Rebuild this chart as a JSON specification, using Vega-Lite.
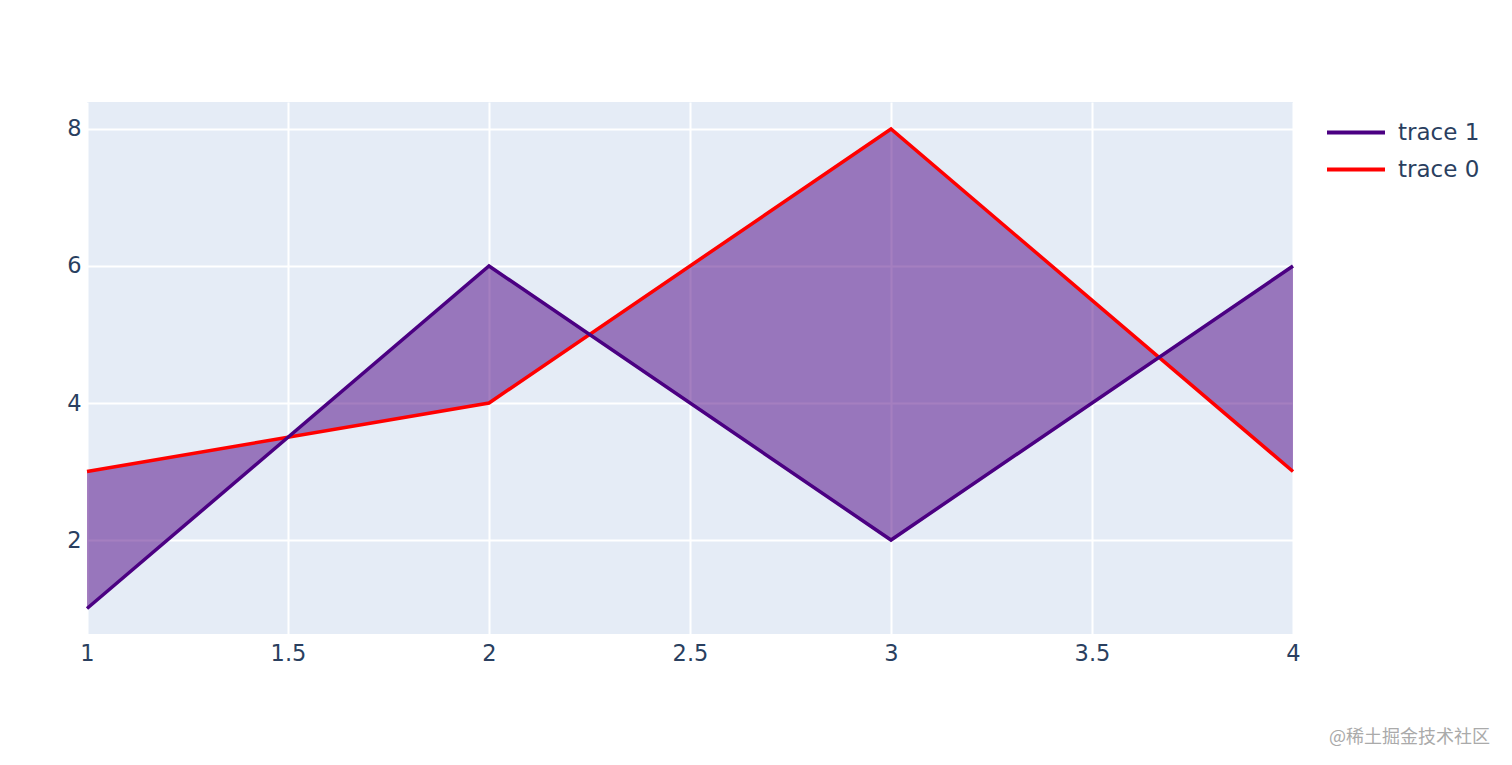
{
  "$schema": "https://vega.github.io/schema/vega-lite/v6.json",
  "width": 1206,
  "height": 532,
  "autosize": "none",
  "padding": {"left": 87, "top": 102, "right": 219, "bottom": 131},
  "background": "white",
  "config": {
    "view": {"fill": "#E5ECF6", "stroke": null},
    "font": "DejaVu Sans",
    "axis": {
      "gridColor": "white",
      "gridWidth": 2,
      "domain": false,
      "ticks": false,
      "labelColor": "#2a3f5f",
      "labelFontSize": 22.5,
      "labelFont": "DejaVu Sans",
      "title": null
    }
  },
  "title": {
    "text": "@稀土掘金技术社区",
    "orient": "bottom",
    "anchor": "end",
    "frame": "group",
    "font": "Noto Sans CJK SC",
    "fontSize": 18,
    "fontWeight": "normal",
    "color": "#aaaaaa",
    "dx": 197,
    "offset": 64
  },
  "data": {
    "values": [
      {"x": 1, "trace0": 3, "trace1": 1},
      {"x": 2, "trace0": 4, "trace1": 6},
      {"x": 3, "trace0": 8, "trace1": 2},
      {"x": 4, "trace0": 3, "trace1": 6}
    ]
  },
  "layer": [
    {
      "mark": {"type": "area", "color": "#4B0082", "opacity": 0.5},
      "encoding": {
        "x": {"field": "x", "type": "quantitative", "scale": {"domain": [1, 4], "nice": false, "zero": false},
              "axis": {"values": [1, 1.5, 2, 2.5, 3, 3.5, 4], "labelExpr": "datum.value", "labelPadding": 8, "labelFlush": false}},
        "y": {"field": "trace1", "type": "quantitative", "scale": {"domain": [0.628, 8.394], "nice": false, "zero": false},
              "axis": {"values": [2, 4, 6, 8], "labelExpr": "datum.value", "labelPadding": 6}},
        "y2": {"field": "trace0"}
      }
    },
    {
      "transform": [{"fold": ["trace0", "trace1"], "as": ["key", "y"]}],
      "mark": {"type": "line", "strokeWidth": 3.5},
      "encoding": {
        "x": {"field": "x", "type": "quantitative"},
        "y": {"field": "y", "type": "quantitative"},
        "color": {
          "field": "key", "type": "nominal",
          "scale": {"domain": ["trace1", "trace0"], "range": ["#4B0082", "#FF0000"]},
          "legend": {
            "title": null,
            "orient": "none",
            "legendX": 1238,
            "legendY": 12,
            "symbolType": "stroke",
            "symbolSize": 3364,
            "symbolStrokeWidth": 4,
            "clipHeight": 37,
            "labelExpr": "datum.value == 'trace1' ? 'trace 1' : 'trace 0'",
            "labelFontSize": 23,
            "labelColor": "#2a3f5f",
            "labelFont": "DejaVu Sans",
            "labelOffset": 11,
            "rowPadding": 0
          }
        },
        "order": {"field": "key", "sort": "ascending"}
      }
    }
  ]
}
